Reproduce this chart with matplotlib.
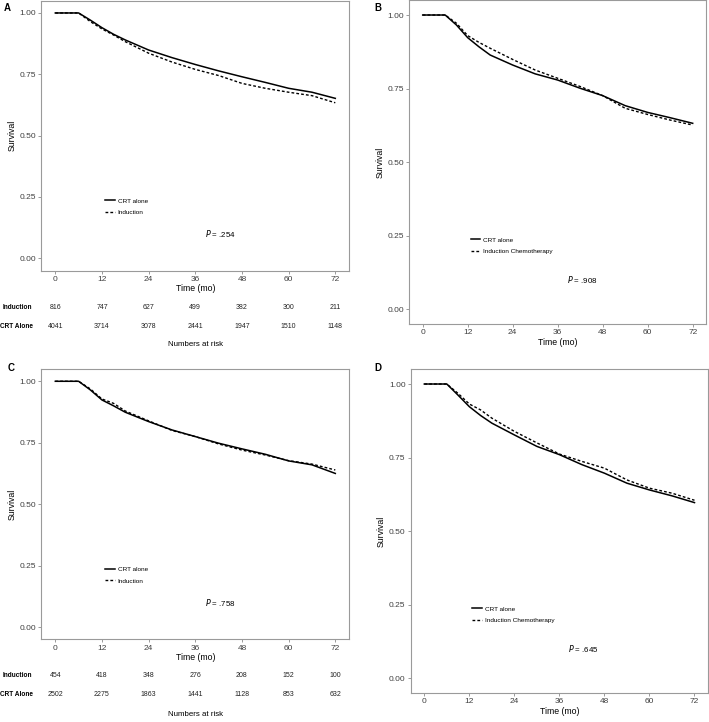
import matplotlib
matplotlib.use("Agg")
import matplotlib.pyplot as plt
from matplotlib.transforms import blended_transform_factory

plt.rcParams['font.family'] = ['Liberation Sans', 'DejaVu Sans']

# datos
meses = [0, 6, 9, 12, 15, 18, 24, 30, 36, 42, 48, 54, 60, 66, 72]

a_crt = [1, 1, .971, .940, .913, .890, .849, .818, .790, .764, .740, .717, .693, .677, .652]
a_ind = [1, 1, .965, .935, .910, .883, .836, .800, .770, .745, .713, .693, .677, .663, .634]
b_crt = [1, 1, .966, .923, .892, .864, .830, .800, .779, .751, .726, .692, .669, .651, .632]
b_ind = [1, 1, .972, .930, .907, .887, .849, .813, .785, .757, .726, .683, .662, .643, .626]
c_crt = [1, 1, .965, .924, .900, .874, .836, .802, .775, .748, .725, .703, .676, .660, .625]
c_ind = [1, 1, .969, .928, .910, .879, .839, .800, .775, .745, .720, .700, .677, .663, .639]
d_crt = [1, 1, .962, .923, .893, .867, .827, .788, .760, .726, .697, .663, .640, .620, .597]
d_ind = [1, 1, .968, .932, .912, .884, .839, .800, .762, .737, .714, .674, .646, .629, .605]

xticks = [0, 12, 24, 36, 48, 60, 72]
yticks = [0, 0.25, 0.5, 0.75, 1.0]

riesgo_meses = [0, 12, 24, 36, 48, 60, 72]
a_riesgo_ind = [816, 747, 627, 499, 382, 300, 211]
a_riesgo_crt = [4041, 3714, 3078, 2441, 1947, 1510, 1148]
c_riesgo_ind = [454, 418, 348, 276, 208, 152, 100]
c_riesgo_crt = [2502, 2275, 1863, 1441, 1128, 853, 632]

W, H = 709, 722
fig = plt.figure(figsize=(W / 100, H / 100), dpi=100)


def panel(rect, crt, ind, lab_ind, pval):
    l, t, r, b = rect
    ax = fig.add_axes([l / W, 1 - b / H, (r - l) / W, (b - t) / H])
    ax.plot(meses, crt, color='black', lw=1.1, label='CRT alone')
    ax.plot(meses, ind, color='black', lw=1.0, dashes=(2, 1.5), label=lab_ind)
    ax.set_xlim(-3.6, 75.6)
    ax.set_ylim(-0.05, 1.05)
    ax.set_xticks(xticks)
    ax.set_yticks(yticks)
    ax.set_yticklabels(['%.2f' % v for v in yticks])
    for s in ax.spines.values():
        s.set_color('#9a9a9a')
        s.set_linewidth(0.8)
    ax.tick_params(colors='#8a8a8a', labelcolor='#404040', labelsize=6.0,
                   length=2, width=0.6, pad=1.8)
    ax.set_xlabel('Time (mo)', fontsize=6.3, labelpad=1)
    ax.set_ylabel('Survival', fontsize=6.3, labelpad=2)
    ax.legend(loc='upper left', bbox_to_anchor=(12.8, 0.245),
              bbox_transform=ax.transData, frameon=False, fontsize=4.6,
              handlelength=1.5, handletextpad=0.5, labelspacing=0.9,
              borderpad=0, borderaxespad=0)
    ax.text(42.5, 0.1, r'$\it{P}$ = ' + pval, fontsize=5.7,
            ha='center', va='center')
    return ax


def riesgo(ax, ind, crt, y_ind, y_crt, y_tit):
    tr = blended_transform_factory(ax.transData, fig.transFigure)
    for m, n1, n2 in zip(riesgo_meses, ind, crt):
        ax.text(m, 1 - y_ind / H, str(n1), transform=tr, fontsize=5.0,
                ha='center', va='center', color='#222222')
        ax.text(m, 1 - y_crt / H, str(n2), transform=tr, fontsize=5.0,
                ha='center', va='center', color='#222222')
    fig.text(32.5 / W, 1 - y_ind / H, 'Induction', fontsize=4.7,
             fontweight='bold', ha='right', va='center')
    fig.text(32.5 / W, 1 - y_crt / H, 'CRT Alone', fontsize=4.7,
             fontweight='bold', ha='right', va='center')
    ax.text(36, 1 - y_tit / H, 'Numbers at risk', transform=tr,
            fontsize=5.7, ha='center', va='center')


ax_a = panel((41.3, 0.7, 349.3, 270.6), a_crt, a_ind, 'Induction', '.254')
ax_b = panel((409.2, 0.3, 706.2, 324.0), b_crt, b_ind, 'Induction Chemotherapy', '.908')
ax_c = panel((41.3, 369.0, 349.3, 639.3), c_crt, c_ind, 'Induction', '.758')
ax_d = panel((410.8, 369.3, 708.0, 693.0), d_crt, d_ind, 'Induction Chemotherapy', '.645')

riesgo(ax_a, a_riesgo_ind, a_riesgo_crt, 307, 326, 345)
riesgo(ax_c, c_riesgo_ind, c_riesgo_crt, 675.3, 694, 714)

for letra, x, y in [('A', 7.5, 8), ('B', 378, 8), ('C', 11, 368), ('D', 378, 368)]:
    fig.text(x / W, 1 - y / H, letra, fontsize=7, fontweight='bold',
             ha='center', va='center')

fig.savefig('out.png', dpi=100)
